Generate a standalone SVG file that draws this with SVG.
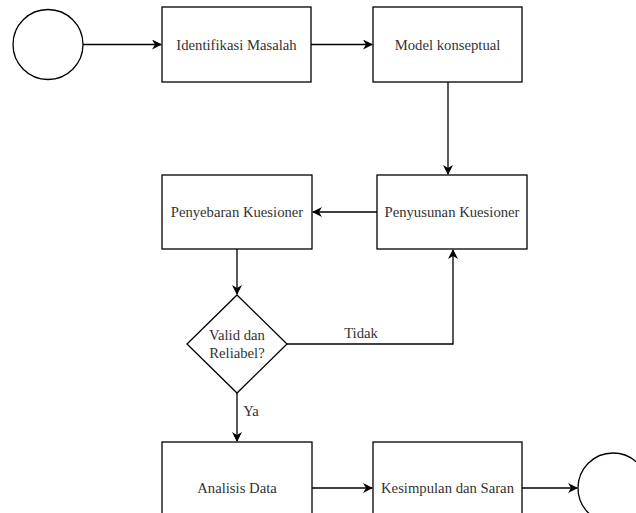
<svg xmlns="http://www.w3.org/2000/svg" width="636" height="513" viewBox="0 0 636 513">
<defs>
<marker id="arr" viewBox="0 0 10 10" refX="9" refY="5" markerWidth="10" markerHeight="10" markerUnits="userSpaceOnUse" orient="auto">
<path d="M0,0 L10,5 L0,10 L3,5 Z" fill="#000"/>
</marker>
<style>
.n{fill:#fff;stroke:#000;stroke-width:1.3}
.t{font-family:'Liberation Serif','DejaVu Serif',serif;font-size:14.7px;fill:#333;text-anchor:middle}
.c{fill:none;stroke:#000;stroke-width:1.3}
</style>
</defs>
<rect width="636" height="513" fill="#fff"/>
<g id="start"><circle class="n" cx="48" cy="44.5" r="35"/></g>
<g id="identifikasi"><rect class="n" x="162" y="7" width="149" height="75"/><text class="t" x="236.5" y="49.5">Identifikasi Masalah</text></g>
<g id="model"><rect class="n" x="373" y="7" width="149" height="75"/><text class="t" x="447.5" y="49.5">Model konseptual</text></g>
<g id="penyusunan"><rect class="n" x="377" y="175" width="150" height="74"/><text class="t" x="452" y="217">Penyusunan Kuesioner</text></g>
<g id="penyebaran"><rect class="n" x="162" y="175" width="150" height="74"/><text class="t" x="237" y="217">Penyebaran Kuesioner</text></g>
<g id="decision"><polygon class="n" points="237,295 287,344 237,393 187,344"/><text class="t" x="237" y="340">Valid dan</text><text class="t" x="237" y="358">Reliabel?</text></g>
<g id="analisis"><rect class="n" x="162" y="442" width="150" height="75"/><text class="t" x="237" y="493">Analisis Data</text></g>
<g id="kesimpulan"><rect class="n" x="373" y="442" width="149" height="75"/><text class="t" x="447.5" y="493">Kesimpulan dan Saran</text></g>
<g id="end"><circle class="n" cx="613" cy="488" r="35"/></g>
<g id="connectors">
<path class="c" d="M83,44.5 H161" marker-end="url(#arr)"/>
<path class="c" d="M311,44.5 H372" marker-end="url(#arr)"/>
<path class="c" d="M448,82 V174" marker-end="url(#arr)"/>
<path class="c" d="M377,212 H313" marker-end="url(#arr)"/>
<path class="c" d="M237,249 V294" marker-end="url(#arr)"/>
<path class="c" d="M287,344 H453 V250" marker-end="url(#arr)"/>
<path class="c" d="M237,393 V441" marker-end="url(#arr)"/>
<path class="c" d="M312,488 H372" marker-end="url(#arr)"/>
<path class="c" d="M522,488 H577" marker-end="url(#arr)"/>
<text class="t" x="361" y="338">Tidak</text>
<text class="t" x="251" y="416">Ya</text>
</g>
</svg>
